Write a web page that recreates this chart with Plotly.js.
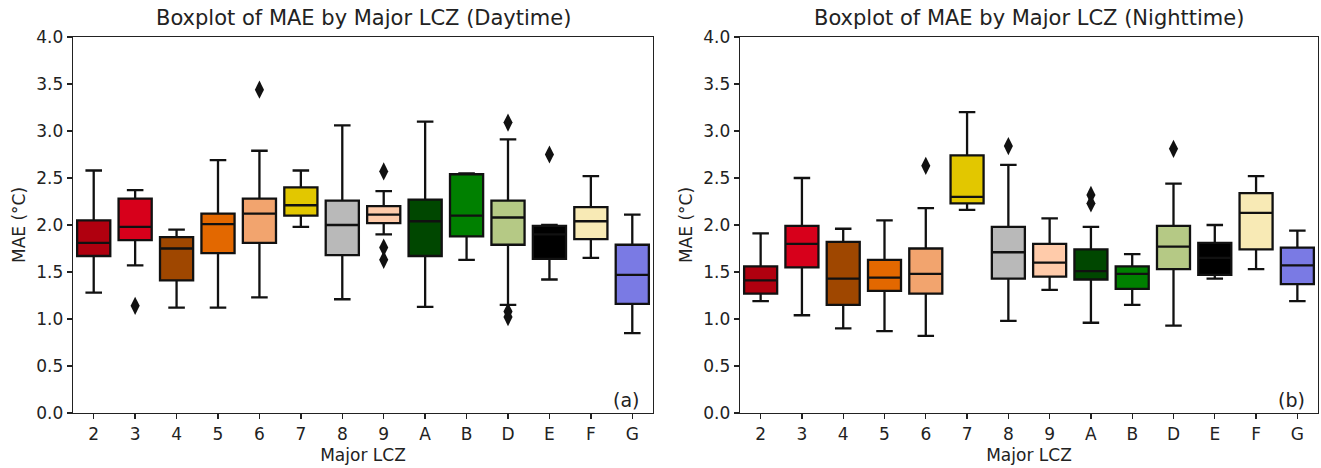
<!DOCTYPE html>
<html>
<head>
<meta charset="utf-8">
<script src="https://cdn.plot.ly/plotly-3.0.1.min.js"></script>
<style>html,body{margin:0;padding:0;background:#fff;}#chart{width:1321px;height:468px;}</style>
</head>
<body>
<div id="chart"></div>
<script>
// Categories (Major LCZ)
const categories = ["2","3","4","5","6","7","8","9","A","B","D","E","F","G"];
const colors = ["#b0000f","#d7001b","#9f4700","#e36800","#f2a46e","#e2c700","#b9b9b9","#ffcbaa","#004700","#008000","#b5c985","#000000","#f8eab5","#7a7ae4"];

// Daytime statistics
const dayLower  = [1.28,1.57,1.12,1.12,1.23,1.98,1.21,1.90,1.13,1.63,1.15,1.42,1.65,0.85];
const dayQ1     = [1.67,1.84,1.41,1.70,1.81,2.10,1.68,2.02,1.67,1.88,1.79,1.64,1.85,1.16];
const dayMedian = [1.81,1.98,1.75,2.01,2.12,2.21,2.00,2.11,2.04,2.10,2.08,1.90,2.04,1.47];
const dayQ3     = [2.05,2.28,1.87,2.12,2.28,2.40,2.26,2.20,2.27,2.54,2.26,1.99,2.19,1.79];
const dayUpper  = [2.58,2.37,1.95,2.69,2.79,2.58,3.06,2.36,3.10,2.55,2.91,2.00,2.52,2.11];
const dayOutX   = ["3","6","9","9","9","D","D","D","E"];
const dayOutY   = [1.14,3.44,2.57,1.76,1.63,3.09,1.08,1.02,2.75];

// Nighttime statistics
const nightLower  = [1.19,1.04,0.90,0.87,0.82,2.16,0.98,1.31,0.96,1.15,0.93,1.43,1.53,1.19];
const nightQ1     = [1.27,1.55,1.15,1.30,1.27,2.23,1.43,1.45,1.42,1.32,1.53,1.47,1.74,1.37];
const nightMedian = [1.41,1.80,1.43,1.44,1.48,2.30,1.71,1.60,1.51,1.48,1.77,1.65,2.13,1.57];
const nightQ3     = [1.56,1.99,1.82,1.63,1.75,2.74,1.98,1.80,1.74,1.56,1.99,1.81,2.34,1.76];
const nightUpper  = [1.91,2.50,1.96,2.05,2.18,3.20,2.64,2.07,1.98,1.69,2.44,2.00,2.52,1.94];
const nightOutX   = ["6","8","A","A","D"];
const nightOutY   = [2.63,2.84,2.32,2.23,2.81];

const W = 1321, H = 468;
const FONT = "DejaVu Sans, sans-serif";

function boxTraces(lower,q1,med,q3,upper,xa,ya){
  return categories.map((c,i)=>({
    type:"box", x:[c], q1:[q1[i]], median:[med[i]], q3:[q3[i]],
    lowerfence:[lower[i]], upperfence:[upper[i]],
    fillcolor:colors[i], line:{color:"#111111",width:2.3},
    width:0.8, whiskerwidth:0.5, boxpoints:false,
    xaxis:xa, yaxis:ya, showlegend:false, hoverinfo:"skip"
  }));
}
function outTrace(xs,ys,xa,ya){
  return {type:"scatter",mode:"markers",x:xs,y:ys,xaxis:xa,yaxis:ya,
    marker:{symbol:"diamond-tall",size:13,color:"#111111"},showlegend:false,hoverinfo:"skip"};
}

const data = [].concat(
  boxTraces(dayLower,dayQ1,dayMedian,dayQ3,dayUpper,"x","y"),
  [outTrace(dayOutX,dayOutY,"x","y")],
  boxTraces(nightLower,nightQ1,nightMedian,nightQ3,nightUpper,"x2","y2"),
  [outTrace(nightOutX,nightOutY,"x2","y2")]
);

const ydom = [(H-413)/H, (H-37)/H];
function xaxis(d, anchor){
  return {domain:d, anchor:anchor, type:"category", categoryorder:"array", categoryarray:categories,
    range:[-0.5,13.5], showline:true, mirror:true, linecolor:"#222", linewidth:1.3,
    ticks:"outside", ticklen:5, tickwidth:1.3, tickcolor:"#222", showgrid:false, zeroline:false,
    tickfont:{family:FONT,size:17,color:"#222"},
    title:{text:"Major LCZ", font:{family:FONT,size:17,color:"#222"}, standoff:6}};
}
function yaxis(anchor){
  return {domain:ydom, anchor:anchor, range:[0,4], dtick:0.5, tick0:0, tickformat:".1f",
    showline:true, mirror:true, linecolor:"#222", linewidth:1.3,
    ticks:"outside", ticklen:5, tickwidth:1.3, tickcolor:"#222", showgrid:false, zeroline:false,
    tickfont:{family:FONT,size:17,color:"#222"},
    title:{text:"MAE (°C)", font:{family:FONT,size:17,color:"#222"}, standoff:6}};
}

const layout = {
  width:W, height:H, margin:{l:0,r:0,t:0,b:0},
  paper_bgcolor:"#fff", plot_bgcolor:"#fff", boxmode:"overlay",
  font:{family:FONT,color:"#222"},
  xaxis: xaxis([73/W, 653/W], "y"),
  yaxis: yaxis("x"),
  xaxis2: xaxis([740/W, 1318/W], "y2"),
  yaxis2: yaxis("x2"),
  annotations:[
    {text:"Boxplot of MAE by Major LCZ (Daytime)", xref:"paper", yref:"paper", x:363/W, y:(H-18)/H,
     showarrow:false, font:{family:FONT,size:21,color:"#222"}, xanchor:"center", yanchor:"middle"},
    {text:"Boxplot of MAE by Major LCZ (Nighttime)", xref:"paper", yref:"paper", x:1029/W, y:(H-18)/H,
     showarrow:false, font:{family:FONT,size:21,color:"#222"}, xanchor:"center", yanchor:"middle"},
    {text:"(a)", xref:"paper", yref:"paper", x:641/W, y:(H-400)/H, showarrow:false,
     font:{family:FONT,size:19,color:"#222"}, xanchor:"right", yanchor:"middle"},
    {text:"(b)", xref:"paper", yref:"paper", x:1307/W, y:(H-400)/H, showarrow:false,
     font:{family:FONT,size:19,color:"#222"}, xanchor:"right", yanchor:"middle"}
  ]
};

Plotly.newPlot("chart", data, layout, {staticPlot:true, displayModeBar:false});
</script>
</body>
</html>
